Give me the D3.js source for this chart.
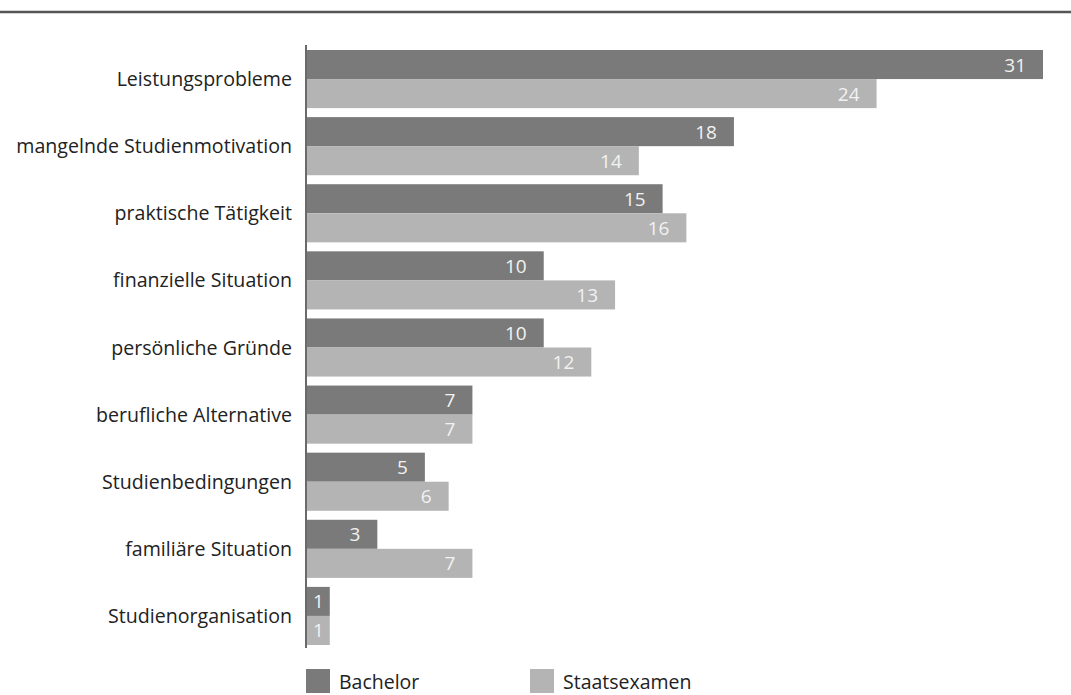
<!DOCTYPE html>
<html>
<head>
<meta charset="utf-8">
<script src="https://cdn.jsdelivr.net/npm/d3@7"></script>
<style>
  html, body { margin: 0; padding: 0; background: #fff; }
  svg { display: block; font-family: "Open Sans", "Noto Sans", sans-serif; }
</style>
</head>
<body>
<svg id="chart" width="1071" height="695"></svg>
<script>
// Gründe für den Studienabbruch, Bachelor vs. Staatsexamen
const categories = [
  "Leistungsprobleme",
  "mangelnde Studienmotivation",
  "praktische Tätigkeit",
  "finanzielle Situation",
  "persönliche Gründe",
  "berufliche Alternative",
  "Studienbedingungen",
  "familiäre Situation",
  "Studienorganisation"
];
const bachelor      = [31, 18, 15, 10, 10, 7, 5, 3, 1];
const staatsexamen  = [24, 14, 16, 13, 12, 7, 6, 7, 1];
const seriesNames   = ["Bachelor", "Staatsexamen"];
const seriesColors  = ["#7a7a7a", "#b4b4b4"];

const svg = d3.select("#chart");
const W = 1071;

const x0 = 306;
const x = d3.scaleLinear().domain([0, 31]).range([x0, 1043]);

const y = d3.scaleBand()
  .domain(categories)
  .range([50, 645])
  .paddingInner(0.134)
  .paddingOuter(0);

const sub = d3.scaleBand()
  .domain(seriesNames)
  .range([0, y.bandwidth()]);

// top rule
svg.append("line")
  .attr("x1", 0).attr("x2", W)
  .attr("y1", 12).attr("y2", 12)
  .attr("stroke", "#555").attr("stroke-width", 2.4);

const rows = categories.map((c, i) => ({ cat: c, vals: [bachelor[i], staatsexamen[i]] }));

const groups = svg.append("g").selectAll("g")
  .data(rows)
  .join("g")
  .attr("transform", d => `translate(0,${y(d.cat)})`);

groups.selectAll("rect")
  .data(d => d.vals.map((v, k) => ({ v, k })))
  .join("rect")
  .attr("x", x0)
  .attr("y", d => sub(seriesNames[d.k]))
  .attr("width", d => x(d.v) - x0)
  .attr("height", sub.bandwidth())
  .attr("fill", d => seriesColors[d.k]);

// values inside bar ends
groups.selectAll("text.val")
  .data(d => d.vals.map((v, k) => ({ v, k })))
  .join("text")
  .attr("class", "val")
  .attr("x", d => x(d.v) - (d.v < 2 ? 6 : 17))
  .attr("y", d => sub(seriesNames[d.k]) + sub.bandwidth() / 2 + 7)
  .attr("text-anchor", "end")
  .attr("font-size", 19)
  .attr("fill", "#f2f2f2")
  .text(d => d.v);

// category labels
svg.append("g").selectAll("text")
  .data(categories)
  .join("text")
  .attr("x", 292)
  .attr("y", d => y(d) + y.bandwidth() / 2 + 7)
  .attr("text-anchor", "end")
  .attr("font-size", 19.6)
  .attr("fill", "#222")
  .text(d => d);

// vertical axis line
svg.append("line")
  .attr("x1", x0).attr("x2", x0)
  .attr("y1", 45).attr("y2", 648)
  .attr("stroke", "#6a6a6a").attr("stroke-width", 2);

// legend
const legendX = [306, 530];
const leg = svg.append("g").selectAll("g")
  .data(seriesNames)
  .join("g")
  .attr("transform", (d, i) => `translate(${legendX[i]},669)`);
leg.append("rect")
  .attr("width", 24).attr("height", 24)
  .attr("fill", (d, i) => seriesColors[i]);
leg.append("text")
  .attr("x", 33).attr("y", 20)
  .attr("font-size", 19.5)
  .attr("fill", "#222")
  .text(d => d);
</script>
</body>
</html>
